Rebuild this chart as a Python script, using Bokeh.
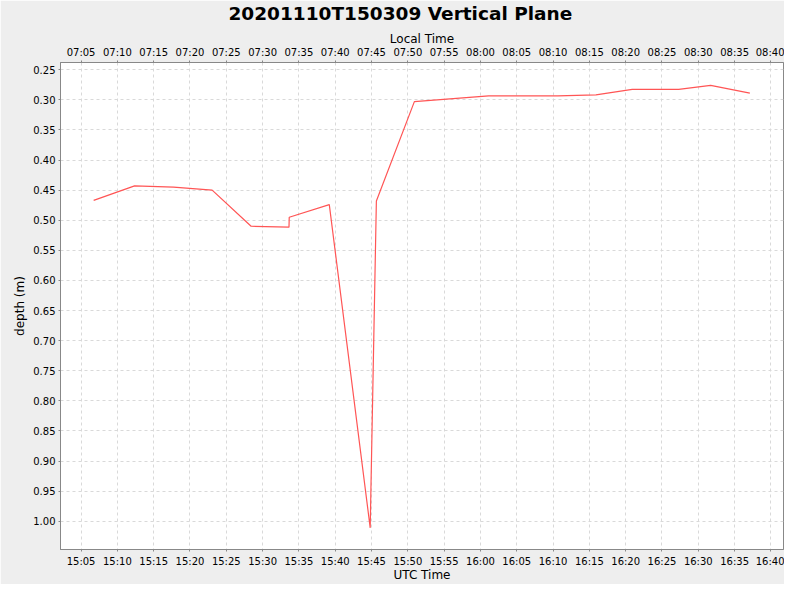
import pandas as pd
from bokeh.plotting import figure
from bokeh.models import (Range1d, DatetimeAxis, FixedTicker, DatetimeTickFormatter,
                          ColumnDataSource, PrintfTickFormatter, Title)
from bokeh.embed import file_html
from bokeh.resources import INLINE

DAY = "2020-11-10 "
utc_time = ["15:06:44", "15:12:22", "15:17:44", "15:23:03", "15:28:25", "15:33:38",
            "15:33:40", "15:39:11", "15:44:49", "15:45:40", "15:50:54", "16:01:08",
            "16:10:40", "16:15:54", "16:20:54", "16:27:18", "16:31:42", "16:37:06"]
depth = [0.467, 0.443, 0.445, 0.450, 0.510, 0.5115,
         0.495, 0.474, 1.011, 0.468, 0.303, 0.2934,
         0.2934, 0.2917, 0.2825, 0.2825, 0.276, 0.289]
utc_tick_labels = ["15:05", "15:10", "15:15", "15:20", "15:25", "15:30", "15:35", "15:40",
                   "15:45", "15:50", "15:55", "16:00", "16:05", "16:10", "16:15", "16:20",
                   "16:25", "16:30", "16:35", "16:40"]
local_tick_labels = ["07:05", "07:10", "07:15", "07:20", "07:25", "07:30", "07:35", "07:40",
                     "07:45", "07:50", "07:55", "08:00", "08:05", "08:10", "08:15", "08:20",
                     "08:25", "08:30", "08:35", "08:40"]
depth_ticks = [0.25, 0.30, 0.35, 0.40, 0.45, 0.50, 0.55, 0.60, 0.65, 0.70, 0.75,
               0.80, 0.85, 0.90, 0.95, 1.00]
x_start, x_end = "15:02:10", "16:41:44"
y_top, y_bottom = 0.238, 1.047
local_offset_hours = -8

FONT = "DejaVu Sans"


def ts(hm):
    return pd.Timestamp(DAY + hm)


def ms(t):
    return t.value // 10**6


times = [ts(t) for t in utc_time]
src = ColumnDataSource(dict(t=times, depth=depth))

off = pd.Timedelta(hours=local_offset_hours)
p = figure(width=784, height=584, output_backend="svg", toolbar_location=None,
           x_axis_type="datetime",
           x_range=Range1d(ts(x_start), ts(x_end)),
           y_range=Range1d(y_bottom, y_top),
           min_border_left=60, min_border_right=1, min_border_top=56, min_border_bottom=30)
p.extra_x_ranges = {"local": Range1d(ts(x_start) + off, ts(x_end) + off)}

p.border_fill_color = "#EEEEEE"
p.background_fill_color = "white"
p.outline_line_color = "#888888"

p.title = Title(text="20201110T150309 Vertical Plane", align="left", offset=168,
                vertical_align="top",
                text_font=FONT, text_font_size="18.5px", text_font_style="bold",
                text_color="black", standoff=5, text_line_height=0.8)

fmt = DatetimeTickFormatter(minutes="%H:%M", hourmin="%H:%M", hours="%H:%M", minsec="%H:%M")
utc_ticker = FixedTicker(ticks=[ms(ts(h)) for h in utc_tick_labels])
local_ticker = FixedTicker(ticks=[ms(ts(h) + off) for h in utc_tick_labels])

xa = p.xaxis[0]
xa.ticker = utc_ticker
xa.formatter = fmt
xa.axis_label = "UTC Time"
p.xgrid.ticker = utc_ticker

top = DatetimeAxis(x_range_name="local", ticker=local_ticker, formatter=fmt,
                   axis_label="Local Time")
p.add_layout(top, "above")

ya = p.yaxis[0]
ya.ticker = FixedTicker(ticks=depth_ticks)
ya.formatter = PrintfTickFormatter(format="%.2f")
ya.axis_label = "depth (m)"
p.ygrid.ticker = ya.ticker

for ax in [xa, top, ya]:
    ax.axis_line_color = "#888888"
    ax.major_tick_line_color = "#888888"
    ax.major_tick_out = 2
    ax.major_tick_in = 0
    ax.minor_tick_out = 0
    ax.minor_tick_in = 0
    ax.major_label_text_font = FONT
    ax.major_label_text_font_size = "10px"
    ax.major_label_text_color = "black"
    ax.major_label_standoff = 3
    ax.axis_label_text_font = FONT
    ax.axis_label_text_font_size = "12px"
    ax.axis_label_text_font_style = "normal"
    ax.axis_label_text_color = "black"
    ax.axis_label_standoff = 3

xa.major_label_standoff = 4
xa.axis_label_standoff = -2
top.axis_label_standoff = -2

for g in [p.xgrid, p.ygrid]:
    g.grid_line_color = "#D9D9D9"
    g.grid_line_dash = "3 3"
    g.grid_line_width = 1

p.line(x="t", y="depth", source=src, line_color="#FF5555", line_width=1.2)

open("out.html", "w").write(file_html(p, INLINE))
